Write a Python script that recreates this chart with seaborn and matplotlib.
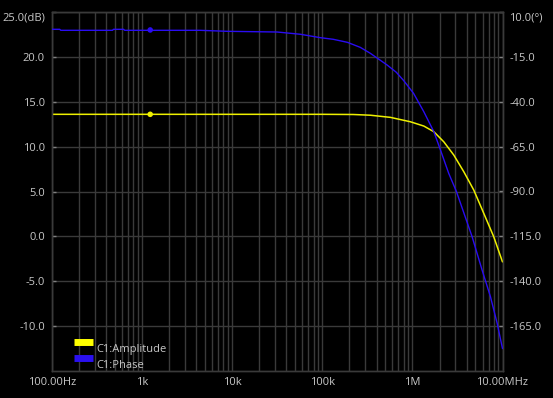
import numpy as np
import pandas as pd
import matplotlib
matplotlib.use("Agg")
import matplotlib.pyplot as plt
import seaborn as sns
from matplotlib.ticker import FixedLocator, NullFormatter
from matplotlib.lines import Line2D
from matplotlib.legend_handler import HandlerLine2D

# ---- data ----
amp_freq = [100, 1e3, 1e4, 1e5, 2.2e5, 3.41e5, 5.7e5, 9.5e5, 1.34e6, 1.73e6, 2.23e6, 2.88e6,
            3.72e6, 4.8e6, 6.2e6, 8.0e6, 1e7]
amp_db = [13.6, 13.6, 13.6, 13.6, 13.58, 13.5, 13.26, 12.77, 12.29, 11.66, 10.54, 9.06,
          7.2, 5.16, 2.56, -0.05, -2.84]

ph_freq = [100, 122, 125, 470, 480, 625, 640, 4.4e3, 8.8e3, 3.16e4, 5.7e4, 9.5e4, 1.32e5, 1.9e5,
           2.64e5, 3.41e5, 5.23e5, 6.6e5, 8.0e5, 1.03e6, 1.34e6, 1.73e6, 2.05e6, 2.53e6, 3.08e6,
           4.6e6, 5.94e6, 7.36e6, 8.73e6, 1e7]
ph_deg = [0.35, 0.35, -0.2, -0.2, 0.35, 0.35, -0.2, -0.2, -0.76, -1.15, -2.4, -4.3, -5.2, -6.9,
          -9.7, -13.0, -19.5, -23.5, -28.2, -35.3, -45.6, -56.7, -66.9, -79.9, -90.0,
          -115.2, -133.8, -148.7, -163.5, -177.5]

marker_freq = [1230]
marker_amp = [13.6]
marker_ph = [0.0]

x_ticks = [100, 1e3, 1e4, 1e5, 1e6, 1e7]
x_labels = ["100.00Hz", "1k", "10k", "100k", "1M", "10.00MHz"]
db_ticks = [25, 20, 15, 10, 5, 0, -5, -10]
db_labels = ["25.0(dB)", "20.0", "15.0", "10.0", "5.0", "0.0", "-5.0", "-10.0"]
deg_ticks = [10, -15, -40, -65, -90, -115, -140, -165]
deg_labels = ["10.0(°)", "-15.0", "-40.0", "-65.0", "-90.0", "-115.0", "-140.0", "-165.0"]
series_names = ["C1:Amplitude", "C1:Phase"]

# ---- style ----
sns.set_style("dark")
plt.rcParams["font.family"] = ["Open Sans", "DejaVu Sans"]
BG = "#000000"
GRID = "#3a3a3a"
TXT = "#c8c8c8"
YEL = "#eef000"
BLU = "#2a0cf2"

fig = plt.figure(figsize=(5.53, 3.98), dpi=100, facecolor=BG)
ax = fig.add_axes([52 / 553, 1 - 371 / 398, 450.5 / 553, 359 / 398])
ax.set_facecolor(BG)
ax2 = ax.twinx()

amp_df = pd.DataFrame({"freq": amp_freq, "db": amp_db})
ph_df = pd.DataFrame({"freq": ph_freq, "deg": ph_deg})

sns.lineplot(data=amp_df, x="freq", y="db", ax=ax, color=YEL, linewidth=1.1,
             sort=False, estimator=None, zorder=3)
sns.scatterplot(x=marker_freq, y=marker_amp, ax=ax, color=YEL, s=16, edgecolor="none", zorder=4)
sns.lineplot(data=ph_df, x="freq", y="deg", ax=ax2, color=BLU, linewidth=1.0,
             sort=False, estimator=None, zorder=3)
sns.scatterplot(x=marker_freq, y=marker_ph, ax=ax2, color=BLU, s=16, edgecolor="none", zorder=4)

for a in (ax, ax2):
    a.set_xscale("log")
    a.set_xlim(100, 1e7)
    a.set_xlabel("")
    a.set_ylabel("")
    for s in a.spines.values():
        s.set_color(GRID)
        s.set_linewidth(1.0)

ax.set_ylim(-15, 25)
ax2.set_ylim(-190, 10)

ax.xaxis.set_major_locator(FixedLocator(x_ticks))
ax.set_xticklabels(x_labels)
minor = [m * 10 ** e for e in range(2, 7) for m in range(2, 10)]
ax.xaxis.set_minor_locator(FixedLocator(minor))
ax.xaxis.set_minor_formatter(NullFormatter())

ax.set_yticks(db_ticks)
ax.set_yticklabels(db_labels)
ax2.set_yticks(deg_ticks)
ax2.set_yticklabels(deg_labels)

ax.grid(True, which="both", axis="x", color=GRID, linewidth=1.0)
ax.grid(True, which="major", axis="y", color=GRID, linewidth=1.0)
ax2.grid(False)
ax.set_axisbelow(True)

ax.tick_params(axis="x", which="both", length=0, pad=4, labelsize=8, labelcolor=TXT)
ax.tick_params(axis="y", direction="in", length=3, width=1, color="#808080", pad=5,
               labelsize=8, labelcolor=TXT)
ax2.tick_params(axis="y", direction="in", length=3, width=1, color="#808080", pad=5,
                labelsize=8, labelcolor=TXT)

ax.get_yticklabels()[0].set_verticalalignment("top")
ax2.get_yticklabels()[0].set_verticalalignment("top")


class RaisedHandler(HandlerLine2D):
    def create_artists(self, legend, orig_handle, xdescent, ydescent, width, height,
                       fontsize, trans):
        arts = super().create_artists(legend, orig_handle, xdescent, ydescent, width,
                                      height, fontsize, trans)
        for a in arts:
            a.set_ydata(np.asarray(a.get_ydata()) + 4.5)
        return arts


handles = [Line2D([], [], color="#ffff00", linewidth=5, solid_capstyle="butt"),
           Line2D([], [], color="#2a10f0", linewidth=5, solid_capstyle="butt")]
leg = ax.legend(handles, series_names, loc="upper left",
                bbox_to_anchor=((74 - 52) / 450.5, (371 - 344) / 359),
                frameon=False, fontsize=8, handlelength=1.7, handletextpad=0.35,
                labelspacing=0.45, borderpad=0, borderaxespad=0,
                handler_map={Line2D: RaisedHandler()})
for t in leg.get_texts():
    t.set_color(TXT)

fig.savefig("out.png", dpi=100, facecolor=BG)
